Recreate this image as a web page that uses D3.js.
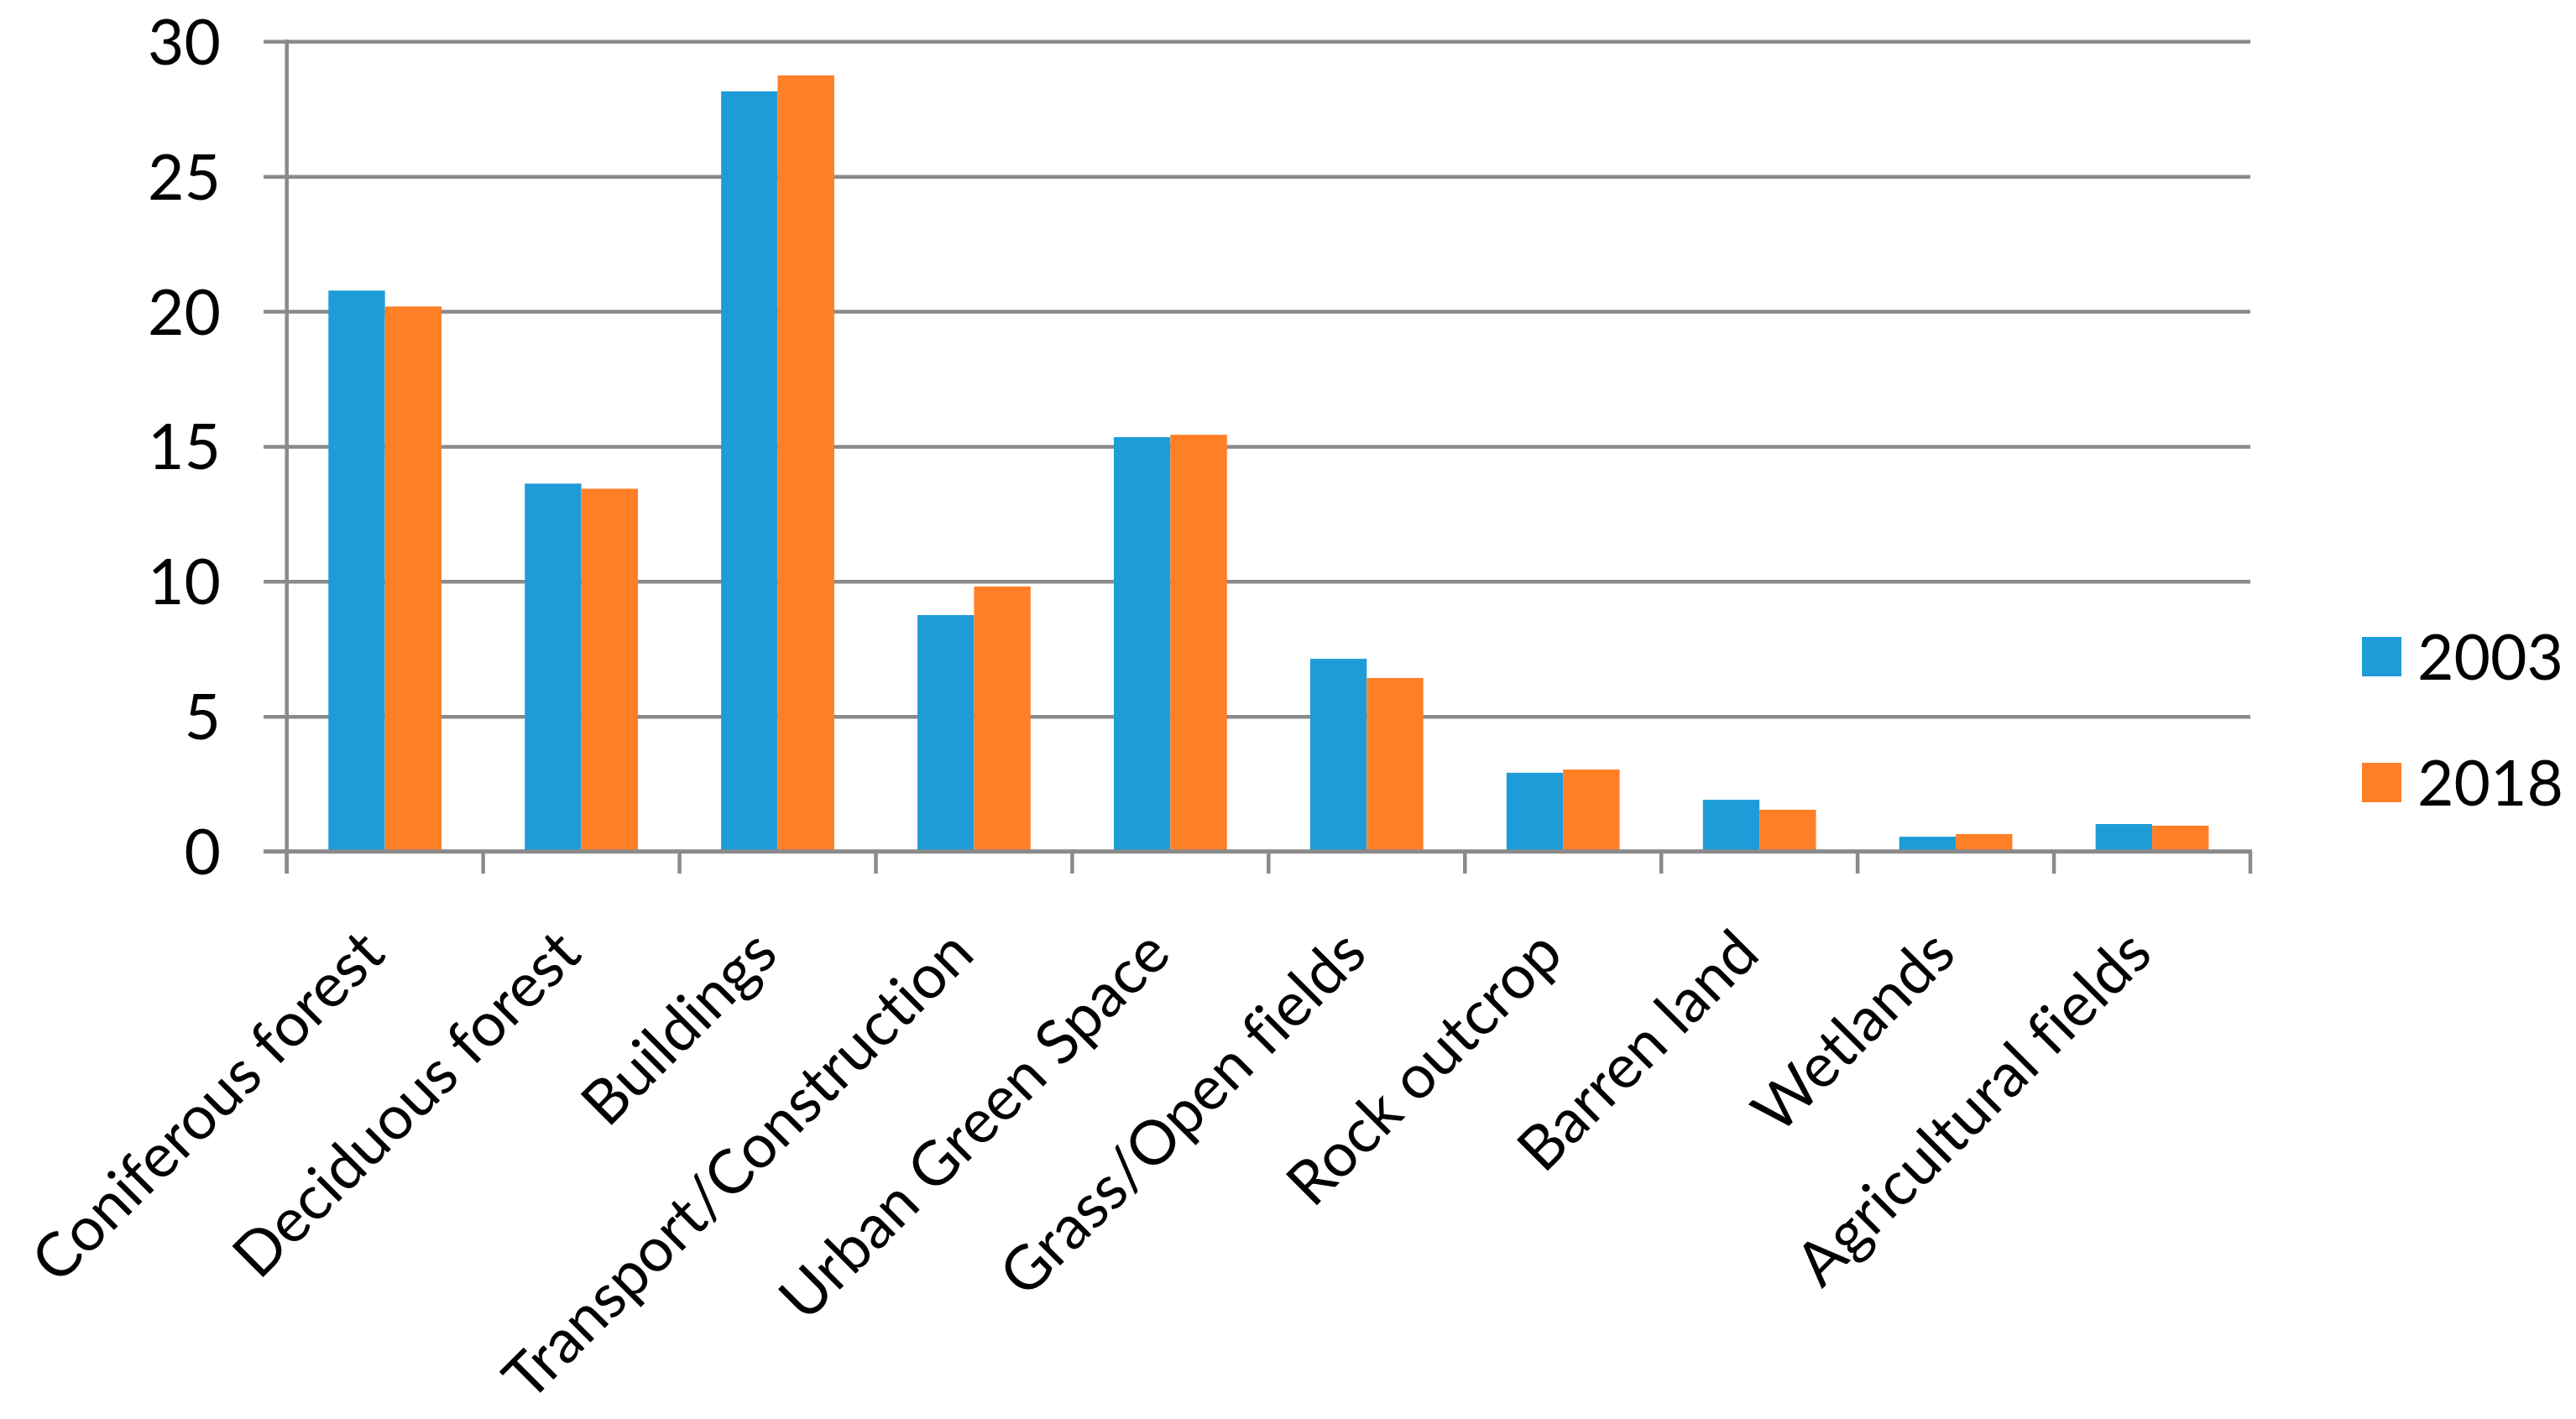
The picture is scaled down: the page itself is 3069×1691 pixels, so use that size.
<!DOCTYPE html>
<html>
<head>
<meta charset="utf-8">
<script src="https://cdn.jsdelivr.net/npm/d3@7"></script>
<style>
  html, body { margin: 0; padding: 0; background: #fff; }
  svg { display: block; }
  text { font-family: Lato, "Open Sans", sans-serif; fill: #000; font-variant-ligatures: none; font-feature-settings: "liga" 0; }
</style>
</head>
<body>
<script>
const categories = ["Coniferous forest", "Deciduous forest", "Buildings", "Transport/Construction",
  "Urban Green Space", "Grass/Open fields", "Rock outcrop", "Barren land", "Wetlands", "Agricultural fields"];
const seriesNames = ["2003", "2018"];
const values2003 = [20.77, 13.62, 28.15, 8.75, 15.34, 7.13, 2.91, 1.91, 0.54, 1.01];
const values2018 = [20.18, 13.43, 28.74, 9.81, 15.43, 6.42, 3.03, 1.54, 0.64, 0.95];
const yTicks = [0, 5, 10, 15, 20, 25, 30];
const colors = ["#1E9CD8", "#FF7F27"];

(function () {
const W = 3069, H = 1691;
const pL = 341.7, pR = 2681, pT = 49.3, pB = 1014.5;
const gridColor = "#8A8A8A", gridW = 4.5;

const svg = d3.select("body").append("svg").attr("width", W).attr("height", H);

const y = d3.scaleLinear().domain([0, 30]).range([pB, pT]);
const x0 = d3.scaleBand().domain(categories).range([pL, pR]).paddingInner(0.424).paddingOuter(0.212);
const x1 = d3.scaleBand().domain(seriesNames).range([0, x0.bandwidth()]);
const xEdge = d3.scaleLinear().domain([0, categories.length]).range([pL, pR]);

// gridlines + y labels
const gx = 314;
const yAxis = d3.axisLeft(y).tickValues(yTicks).tickSize(-(pR - gx)).tickPadding(51).tickFormat(d3.format("d"));
const ga = svg.append("g").attr("transform", `translate(${gx},0)`).call(yAxis);
ga.select(".domain").remove();
ga.selectAll(".tick line").attr("stroke", gridColor).attr("stroke-width", gridW);
ga.selectAll(".tick text").attr("font-size", 75).attr("dy", "0.36em").attr("fill", "#000")
  .style("font-family", "Lato, 'Open Sans', sans-serif");

// bars
const rows = categories.map((c, i) => ({ c, v: [values2003[i], values2018[i]] }));
const grp = svg.append("g").selectAll("g").data(rows).join("g")
  .attr("transform", d => `translate(${x0(d.c)},0)`);
grp.selectAll("rect").data(d => d.v.map((v, k) => ({ k, v }))).join("rect")
  .attr("x", d => x1(seriesNames[d.k]))
  .attr("width", x1.bandwidth())
  .attr("y", d => y(d.v))
  .attr("height", d => y(0) - y(d.v))
  .attr("fill", d => colors[d.k]);

// axis lines
svg.append("line").attr("x1", pL).attr("x2", pL).attr("y1", pT - 2).attr("y2", 1041)
  .attr("stroke", gridColor).attr("stroke-width", gridW);
svg.append("line").attr("x1", gx).attr("x2", pR + 2).attr("y1", pB).attr("y2", pB)
  .attr("stroke", gridColor).attr("stroke-width", gridW);
svg.append("g").selectAll("line").data(d3.range(categories.length + 1)).join("line")
  .attr("x1", d => xEdge(d)).attr("x2", d => xEdge(d))
  .attr("y1", pB).attr("y2", 1041)
  .attr("stroke", gridColor).attr("stroke-width", gridW);

// category labels
svg.append("g").selectAll("text").data(categories).join("text")
  .attr("transform", d => `translate(${x0(d) + x0.bandwidth() / 2 + 3},${1140}) rotate(-45)`)
  .attr("text-anchor", "end")
  .attr("font-size", 73)
  .text(d => d);

// legend
const lg = svg.append("g").selectAll("g").data(seriesNames).join("g")
  .attr("transform", (d, i) => `translate(2814,${759 + i * 150})`);
lg.append("rect").attr("width", 47).attr("height", 47).attr("fill", (d, i) => colors[i]);
lg.append("text").attr("x", 66).attr("y", 23.5).attr("dy", "0.36em").attr("font-size", 75).text(d => d);
})();
</script>
</body>
</html>
